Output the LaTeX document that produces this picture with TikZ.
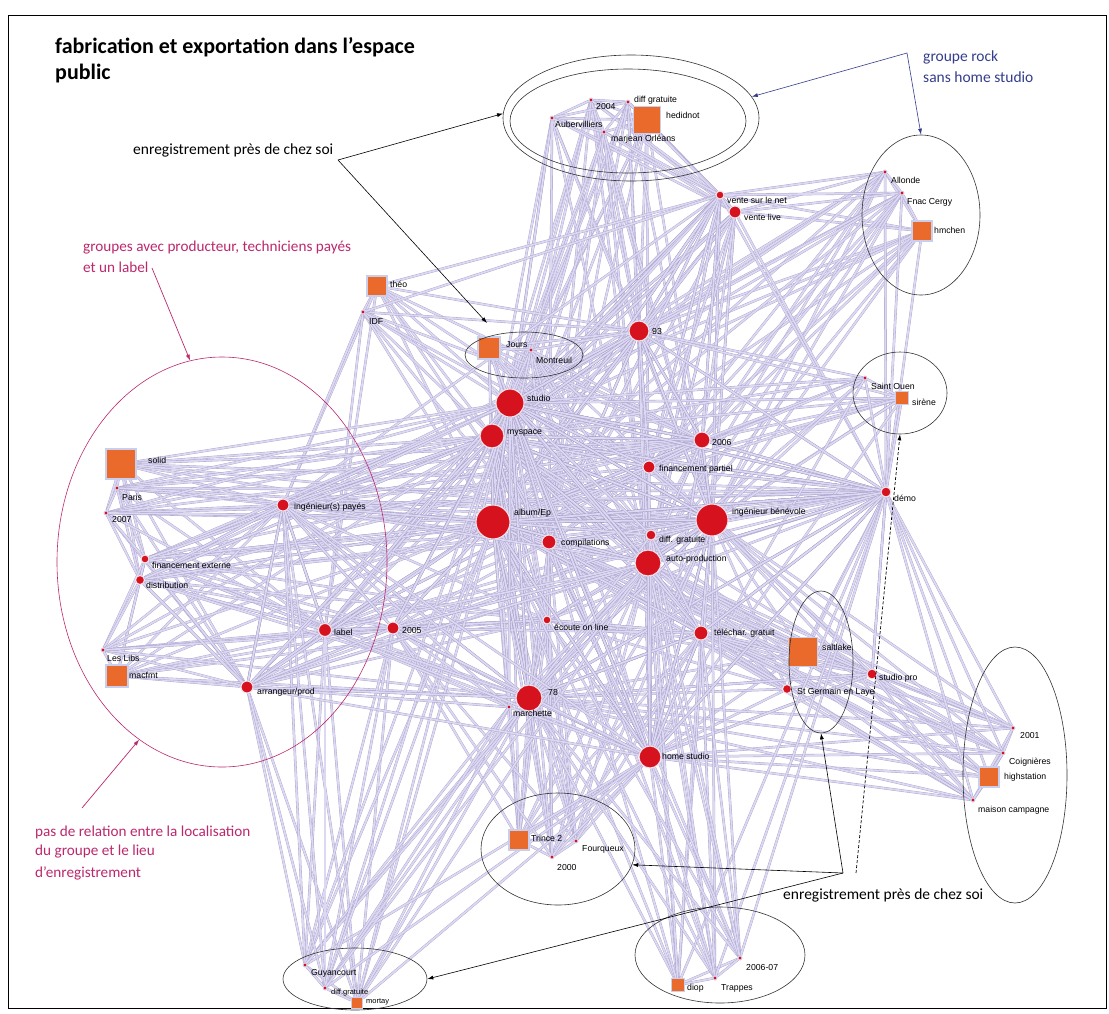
\documentclass[tikz,border=0pt]{standalone}
\usepackage{fontspec}
\setmainfont{Carlito}
\newfontfamily\labfont{Liberation Sans}
\usetikzlibrary{shapes.geometric,arrows.meta}
\pgfdeclarelayer{background}
\pgfsetlayers{background,main}
\definecolor{nred}{RGB}{214,18,30}
\definecolor{nhalo}{RGB}{246,226,236}
\definecolor{dhalo}{RGB}{218,212,240}
\definecolor{orng}{RGB}{233,106,42}
\definecolor{sqedge}{RGB}{200,206,236}
\definecolor{lnkout}{RGB}{168,160,202}
\definecolor{lnkin}{RGB}{220,216,242}
\definecolor{pinkann}{RGB}{188,40,110}
\definecolor{blueann}{RGB}{52,62,140}
\newcommand\cliq[1]{%
  \foreach \qa [count=\qi] in {#1}{%
    \foreach \qb [count=\qj] in {#1}{%
      \ifnum\qj>\qi \draw[lnk] (\qa) -- (\qb);\fi
    }}}
\tikzset{
  lnk/.style={draw=lnkout, double=lnkin, double distance=1.8pt, line width=0.35pt},
  bigred/.style={circle, fill=nred, draw=nhalo, line width=1.1pt, inner sep=0pt, minimum size=#1},
  sdot/.style={circle, fill=nred, draw=dhalo, line width=0.9pt, inner sep=0pt, minimum size=4pt},
  band/.style={rectangle, fill=orng, draw=sqedge, line width=1.1pt, inner sep=0pt, minimum size=#1},
  lab/.style={anchor=west, inner sep=0pt, font=\labfont\fontsize{8.7}{10}\selectfont},
  grp/.style={ellipse, draw=black!80, line width=0.6pt, inner sep=0pt},
  ann/.style={anchor=west, inner sep=0pt, font=\fontsize{15.5}{17}\selectfont},
  pann/.style={anchor=west, inner sep=0pt, text=pinkann, font=\fontsize{15.2}{17}\selectfont},
  tip/.style={-{Latex[length=6pt,width=4pt]}},
}
\begin{document}
\begin{tikzpicture}[x=1pt,y=-1pt]
\useasboundingbox (0,0) rectangle (1109,1013);
\draw[line width=1pt] (8,15) rectangle (1106,1008);

% title
\node[anchor=base west, inner sep=0pt, font=\bfseries\fontsize{22}{26}\selectfont] (title1) at (55,53) {fabrication et exportation dans l'espace};
\node[anchor=base west, inner sep=0pt, font=\bfseries\fontsize{22}{26}\selectfont] (title2) at (55,79) {public};

% ---- shared attribute nodes (red)
\node[bigred=20pt] (n93) at (639,331) {};
\node[bigred=28pt] (studio) at (510,403) {};
\node[bigred=24pt] (myspace) at (492,436) {};
\node[bigred=16pt] (n2006) at (702,440) {};
\node[bigred=12pt] (finpart) at (649,467) {};
\node[bigred=34pt] (album) at (493,522) {};
\node[bigred=32pt] (ingbenev) at (712,520) {};
\node[bigred=14pt] (compil) at (549,542) {};
\node[bigred=10pt] (diffgrat) at (651,535) {};
\node[bigred=26pt] (autoprod) at (648,563) {};
\node[bigred=12pt] (n2005) at (393,628) {};
\node[bigred=8pt] (ecoute) at (547,620) {};
\node[bigred=14pt] (telechar) at (701,633) {};
\node[bigred=26pt] (n78) at (529,698) {};
\node[bigred=22pt] (homestud) at (650,757) {};
\node[bigred=10pt] (demo) at (886,492) {};
\node[bigred=10pt] (studiopro) at (872,674) {};
\node[bigred=8pt] (ventenet) at (720,195) {};
\node[bigred=12pt] (ventelive) at (735,212) {};
\node[bigred=12pt] (ingpay) at (283,505) {};
\node[bigred=13pt] (nlabel) at (325,630) {};
\node[bigred=12pt] (arrang) at (247,687) {};
\node[bigred=8pt] (finext) at (145,559) {};
\node[bigred=9pt] (distrib) at (140,580) {};
\node[bigred=9pt] (stgerm) at (787,689) {};

% ---- small dots
\node[sdot] (h2004) at (591,100) {};
\node[sdot] (hdiff) at (628,102) {};
\node[sdot] (auber) at (552,118) {};
\node[sdot] (marjean) at (604,132) {};
\node[sdot] (allonde) at (885,172) {};
\node[sdot] (fnac) at (902,193) {};
\node[sdot] (idf) at (363,312) {};
\node[sdot] (montreuil) at (531,350) {};
\node[sdot] (paris) at (117,488) {};
\node[sdot] (n2007) at (106,513) {};
\node[sdot] (leslibs) at (103,650) {};
\node[sdot] (stouen) at (865,378) {};
\node[sdot] (n2001) at (1013,728) {};
\node[sdot] (coign) at (1003,753) {};
\node[sdot] (maison) at (973,800) {};
\node[sdot] (fourq) at (576,841) {};
\node[sdot] (n2000) at (552,857) {};
\node[sdot] (trappes) at (715,978) {};
\node[sdot] (n200607) at (740,958) {};
\node[sdot] (guyan) at (305,965) {};
\node[sdot] (diffgb) at (325,988) {};
\node[sdot] (marchette) at (509,707) {};

% ---- bands (orange)
\node[band=27pt] (hedidnot) at (647,120) {};
\node[band=20pt] (hmchen) at (922,231) {};
\node[band=20pt] (theo) at (377,286) {};
\node[band=22pt] (jours) at (489,348) {};
\node[band=30pt] (solid) at (121,464) {};
\node[band=22pt] (macfmt) at (117,676) {};
\node[band=29pt] (saltlake) at (803,652) {};
\node[band=13pt] (sirene) at (902,398) {};
\node[band=20pt] (highst) at (989,777) {};
\node[band=20pt] (trince) at (519,840) {};
\node[band=13pt] (diop) at (678,985) {};
\node[band=11pt] (mortay) at (357,1003) {};

% ---- links
\begin{pgfonlayer}{background}
\fill[white] (0,0) rectangle (1109,1013);
\cliq{hedidnot,h2004,hdiff,auber,marjean,n93,studio,myspace,album,autoprod,ingbenev,ventenet,ventelive,compil}
\cliq{hmchen,allonde,fnac,n93,studio,album,ingbenev,autoprod,ventenet,ventelive,demo,myspace,finpart,n2006}
\cliq{theo,idf,ingpay,studio,myspace,album,n93,ventenet,n2006,finpart,nlabel,compil}
\cliq{jours,montreuil,n93,studio,myspace,album,autoprod,homestud,ingbenev,compil,diffgrat,n2006}
\cliq{solid,paris,n2007,ingpay,nlabel,arrang,finext,distrib,album,studio,myspace,n2006,demo,ingbenev}
\cliq{macfmt,leslibs,nlabel,arrang,finext,distrib,ingpay,album,n2005,n78,myspace,ecoute}
\cliq{saltlake,stgerm,n78,telechar,ingbenev,autoprod,homestud,album,myspace,demo,studiopro,ecoute}
\cliq{sirene,stouen,n93,demo,album,ingbenev,autoprod,homestud,myspace,n2006,finpart,studio}
\cliq{highst,n2001,coign,maison,n78,studiopro,demo,album,autoprod,ingbenev,homestud,telechar,compil}
\cliq{trince,fourq,n2000,n78,homestud,autoprod,album,ingbenev,myspace,studio,ecoute,compil,n2005,telechar}
\cliq{diop,trappes,n200607,n78,homestud,autoprod,album,ingbenev,studio,telechar,demo,diffgrat}
\cliq{mortay,guyan,diffgb,marchette,n78,nlabel,arrang,album,studio,homestud,ingpay,n2005,autoprod}
\end{pgfonlayer}

% ---- node labels
\node[lab] (l93) at (652,331) {93};
\node[lab] (lstudio) at (527,398) {studio};
\node[lab] (lmyspace) at (507,433) {myspace};
\node[lab] (l2006) at (712,442) {2006};
\node[lab] (lfinpart) at (659,469) {financement partiel};
\node[lab] (lalbum) at (514,513) {album/Ep};
\node[lab] (lingbenev) at (732,512) {ingénieur bénévole};
\node[lab] (lcompil) at (561,543) {compilations};
\node[lab] (ldiffgrat) at (659,540) {diff. gratuite};
\node[lab] (lautoprod) at (666,559) {auto-production};
\node[lab] (l2005) at (402,630) {2005};
\node[lab] (lecoute) at (554,627) {écoute on line};
\node[lab] (ltelechar) at (714,633) {téléchar. gratuit};
\node[lab] (l78) at (548,692) {78};
\node[lab] (lhomestud) at (662,756) {home studio};
\node[lab] (ldemo) at (894,498) {démo};
\node[lab] (lstudiopro) at (879,678) {studio pro};
\node[lab] (lventenet) at (727,200) {vente sur le net};
\node[lab] (lventelive) at (744,217) {vente live};
\node[lab] (lingpay) at (294,507) {ingénieur(s) payés};
\node[lab] (llabel) at (334,632) {label};
\node[lab] (larrang) at (257,692) {arrangeur/prod};
\node[lab] (lfinext) at (152,565) {financement externe};
\node[lab] (ldistrib) at (146,585) {distribution};
\node[lab] (lstgerm) at (797,692) {St Germain en Laye};
\node[lab] (l2004) at (596,106) {2004};
\node[lab] (lhdiff) at (634,100) {diff gratuite};
\node[lab] (lauber) at (555,124) {Aubervilliers};
\node[lab] (lmarjean) at (611,139) {marjean Orléans};
\node[lab] (lallonde) at (891,180) {Allonde};
\node[lab] (lfnac) at (907,202) {Fnac Cergy};
\node[lab] (lidf) at (369,321) {IDF};
\node[lab] (lmontreuil) at (536,360) {Montreuil};
\node[lab] (lparis) at (122,497) {Paris};
\node[lab] (l2007) at (112,519) {2007};
\node[lab] (lleslibs) at (107,658) {Les Libs};
\node[lab] (lstouen) at (871,386) {Saint Ouen};
\node[lab] (l2001) at (1020,735) {2001};
\node[lab] (lcoign) at (1009,762) {Coignières};
\node[lab] (lmaison) at (978,810) {maison campagne};
\node[lab] (lfourq) at (582,849) {Fourqueux};
\node[lab] (l2000) at (557,867) {2000};
\node[lab] (ltrappes) at (721,988) {Trappes};
\node[lab] (l200607) at (746,967) {2006-07};
\node[lab] (lguyan) at (311,973) {Guyancourt};
\node[lab, font=\labfont\fontsize{7.5}{8}\selectfont] (ldiffgb) at (331,993) {diff.gratuite};
\node[lab, font=\labfont\fontsize{7.5}{8}\selectfont] (lmortay) at (366,1002) {mortay};
\node[lab] (lmarchette) at (513,713) {marchette};
\node[lab] (lhedidnot) at (666,115) {hedidnot};
\node[lab] (lhmchen) at (934,230) {hmchen};
\node[lab] (ltheo) at (390,284) {théo};
\node[lab] (ljours) at (506,345) {Jours};
\node[lab] (lsolid) at (148,460) {solid};
\node[lab] (lmacfmt) at (129,675) {macfmt};
\node[lab] (lsaltlake) at (822,647) {saltlake};
\node[lab] (lsirene) at (912,402) {sirène};
\node[lab] (lhighst) at (1004,777) {highstation};
\node[lab] (ltrince) at (531,838) {Trince 2};
\node[lab] (ldiop) at (687,988) {diop};

% ---- group ellipses
\node[grp, minimum width=256pt, minimum height=126pt] (ellOut) at (631,118) {};
\node[grp, minimum width=236pt, minimum height=104pt] (ellIn) at (628,121) {};
\node[grp, minimum width=118pt, minimum height=160pt] (ellRock) at (921,215) {};
\node[grp, minimum width=118pt, minimum height=46pt] (ellJours) at (524,355) {};
\node[grp, draw=pinkann, minimum width=330pt, minimum height=410pt] (ellLeft) at (222,562) {};
\node[grp, minimum width=94pt, minimum height=82pt] (ellOuen) at (900,393) {};
\node[grp, minimum width=64pt, minimum height=142pt] (ellSG) at (821,662) {};
\node[grp, minimum width=104pt, minimum height=256pt] (ellHigh) at (1015,775) {};
\node[grp, minimum width=154pt, minimum height=112pt] (ellFour) at (558,849) {};
\node[grp, minimum width=170pt, minimum height=96pt] (ellDiop) at (720,955) {};
\node[grp, minimum width=144pt, minimum height=62pt] (ellGuy) at (355,979) {};

% ---- annotations
\node[ann] (enr1) at (133,150) {enregistrement près de chez soi};
\coordinate (jE1) at (338,160);
\coordinate (tJours) at (487,323);
\draw[line width=0.6pt, tip] (jE1) -- (ellOut.178);
\draw[line width=0.6pt, tip] (jE1) -- (tJours);

\node[ann, text=blueann] (rock1) at (923,57) {groupe rock};
\node[ann, text=blueann] (rock2) at (923,77) {sans home studio};
\coordinate (jB) at (907,53);
\draw[blueann, line width=0.6pt, {Latex[length=6pt,width=4pt]}-{Latex[length=6pt,width=4pt]}] (ellOut.10) -- (jB) -- (ellRock.north);

\node[pann] (prod1) at (83,248) {groupes avec producteur, techniciens payés};
\node[pann] (prod2) at (83,267) {et un label};
\coordinate (jP1) at (152,268);
\draw[pinkann, line width=0.7pt, tip] (jP1) -- (ellLeft.99);

\node[pann] (rel1) at (35,832) {pas de relation entre la localisation};
\node[pann] (rel2) at (35,852) {du groupe et le lieu};
\node[pann] (rel3) at (35,873) {d'enregistrement};
\coordinate (jP2) at (82,808);
\draw[pinkann, line width=0.7pt, tip] (jP2) -- (ellLeft.245);

\node[ann] (enr2) at (783,895) {enregistrement près de chez soi};
\coordinate (jE2) at (843,873);
\coordinate (jE3) at (856,873);
\draw[line width=0.6pt, tip] (jE2) -- (ellFour.-12);
\draw[line width=0.6pt, tip] (jE2) -- (ellSG.south);
\draw[line width=0.6pt, tip] (jE2) -- (ellGuy.east);
\draw[line width=0.7pt, densely dashed, tip] (jE3) -- (ellOuen.south);
\end{tikzpicture}
\end{document}
